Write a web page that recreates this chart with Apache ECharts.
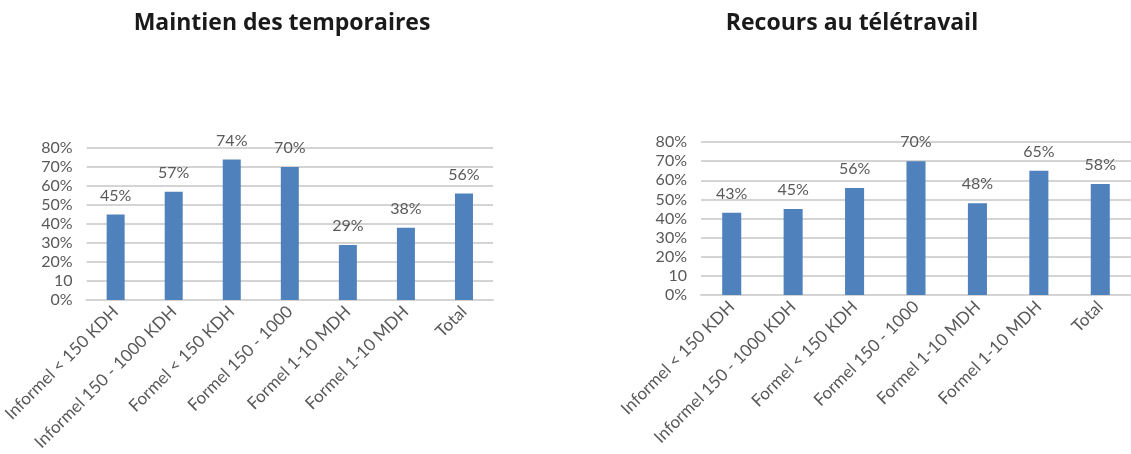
<!DOCTYPE html>
<html>
<head>
<meta charset="utf-8">
<script src="https://cdn.jsdelivr.net/npm/echarts@6/dist/echarts.min.js"></script>
<style>
  html, body { margin: 0; padding: 0; background: #fff; }
  #chart { width: 1131px; height: 454px; }
</style>
</head>
<body>
<div id="chart"></div>
<script>
// Company size / formality categories shared by both panels
const categories = [
  'Informel < 150 KDH',
  'Informel 150 - 1000 KDH',
  'Formel < 150 KDH',
  'Formel 150 - 1000',
  'Formel 1-10 MDH',
  'Formel 1-10 MDH',
  'Total'
];

// Share of firms (in %) per category
const maintienTemporaires = [45, 57, 74, 70, 29, 38, 56];
const recoursTeletravail = [43, 45, 56, 70, 48, 65, 58];

// Y-axis tick labels, from 0 to 80 in steps of 10
const yTickLabels = ['0%', '10', '20%', '30%', '40%', '50%', '60%', '70%', '80%'];

const titles = ['Maintien des temporaires', 'Recours au télétravail'];

const FONT = 'Lato, "Open Sans", sans-serif';
const TITLE_FONT = '"Open Sans", Lato, sans-serif';
const GREY = '#595959';
const BAR = '#4f81bd';
const GRIDLINE = '#d4d4d4';

function xAxisFor(gridIndex) {
  return {
    type: 'category',
    gridIndex,
    data: categories,
    axisTick: { show: false },
    axisLine: { lineStyle: { color: GRIDLINE, width: 2 } },
    axisLabel: {
      rotate: 45,
      interval: 0,
      margin: 9,
      color: GREY,
      fontFamily: FONT,
      fontSize: 17
    }
  };
}

function yAxisFor(gridIndex) {
  return {
    type: 'value',
    gridIndex,
    min: 0,
    max: 80,
    interval: 10,
    axisLine: { show: false },
    axisTick: { show: false },
    splitLine: { lineStyle: { color: GRIDLINE, width: 2 } },
    axisLabel: {
      color: GREY,
      fontFamily: FONT,
      fontSize: 16,
      margin: 14,
      formatter: v => yTickLabels[Math.round(v / 10)]
    }
  };
}

function barSeries(idx, data) {
  return {
    type: 'bar',
    xAxisIndex: idx,
    yAxisIndex: idx,
    data,
    barWidth: '31%',
    itemStyle: { color: BAR },
    label: {
      show: true,
      position: 'top',
      distance: 11,
      color: GREY,
      fontFamily: FONT,
      fontSize: 16,
      formatter: p => p.value + '%'
    }
  };
}

const chart = echarts.init(document.getElementById('chart'), null, { renderer: 'canvas' });
chart.setOption({
  animation: false,
  backgroundColor: '#fff',
  title: [
    {
      text: titles[0],
      left: 277, top: 7, textAlign: 'center',
      textStyle: { fontFamily: TITLE_FONT, fontWeight: 'bold', fontSize: 23, color: '#1a1a1a' }
    },
    {
      text: titles[1],
      left: 847, top: 7, textAlign: 'center',
      textStyle: { fontFamily: TITLE_FONT, fontWeight: 'bold', fontSize: 23, color: '#1a1a1a' }
    }
  ],
  grid: [
    { left: 86, right: 638, top: 148, bottom: 154 },
    { left: 701, right: 0, top: 142, bottom: 159 }
  ],
  xAxis: [xAxisFor(0), xAxisFor(1)],
  yAxis: [yAxisFor(0), yAxisFor(1)],
  series: [
    barSeries(0, maintienTemporaires),
    barSeries(1, recoursTeletravail)
  ]
});
</script>
</body>
</html>
